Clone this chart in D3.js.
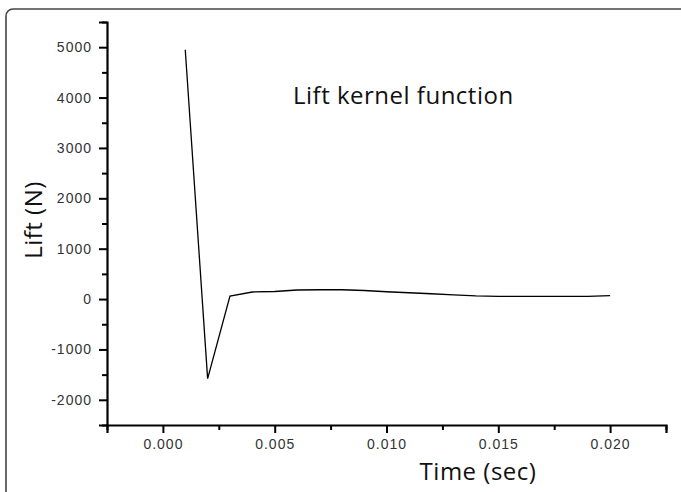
<!DOCTYPE html>
<html>
<head>
<meta charset="utf-8">
<script src="https://cdn.jsdelivr.net/npm/d3@7"></script>
<style>
  html, body { margin: 0; padding: 0; background: #fff; }
  svg { display: block; }
  .tick text { font-family: "Liberation Sans", Arial, sans-serif; font-size: 14px; fill: #333; letter-spacing: 1px; }
</style>
</head>
<body>
<svg id="chart" width="681" height="492"></svg>
<script>
// Data
const timeSec = [0.001, 0.002, 0.003, 0.004, 0.005, 0.006, 0.007, 0.008, 0.009, 0.010,
                 0.011, 0.012, 0.013, 0.014, 0.015, 0.016, 0.017, 0.018, 0.019, 0.020];
const liftN   = [4950, -1580, 60, 140, 150, 180, 185, 185, 170, 145,
                 125, 105, 85, 65, 55, 55, 55, 55, 55, 70];
const xTicks = [0.000, 0.005, 0.010, 0.015, 0.020];
const xMinorTicks = [-0.0025, 0.0025, 0.0075, 0.0125, 0.0175, 0.0225];
const yTicks = [-2000, -1000, 0, 1000, 2000, 3000, 4000, 5000];
const yMinorTicks = [-2500, -1500, -500, 500, 1500, 2500, 3500, 4500, 5500];
const titleText = "Lift kernel function";
const xLabel = "Time (sec)";
const yLabel = "Lift (N)";

const W = 681, H = 492;
const m = { left: 107, right: 15, top: 22, bottom: 67 };
const svg = d3.select("#chart");

// frame
svg.append("rect")
  .attr("x", 6).attr("y", 9).attr("width", 720).attr("height", 520)
  .attr("rx", 7).attr("fill", "none").attr("stroke", "#444").attr("stroke-width", 1.6);

const x = d3.scaleLinear().domain([-0.0025, 0.0225]).range([m.left, W - m.right]);
const y = d3.scaleLinear().domain([-2500, 5500]).range([H - m.bottom, m.top]);

// minor ticks
svg.append("g").attr("transform", `translate(0,${H - m.bottom})`)
  .call(d3.axisBottom(x).tickValues(xMinorTicks).tickSize(5).tickFormat(""))
  .call(g => g.select(".domain").remove())
  .call(g => g.selectAll("line").attr("stroke", "#000").attr("stroke-width", 2));
svg.append("g").attr("transform", `translate(${m.left},0)`)
  .call(d3.axisLeft(y).tickValues(yMinorTicks).tickSize(5).tickFormat(""))
  .call(g => g.select(".domain").remove())
  .call(g => g.selectAll("line").attr("stroke", "#000").attr("stroke-width", 2));

// major axes
const xAxis = svg.append("g").attr("transform", `translate(0,${H - m.bottom})`)
  .call(d3.axisBottom(x).tickValues(xTicks).tickSize(8).tickPadding(6).tickFormat(d3.format(".3f")));
const yAxis = svg.append("g").attr("transform", `translate(${m.left},0)`)
  .call(d3.axisLeft(y).tickValues(yTicks).tickSize(8).tickPadding(7).tickFormat(d => String(d)));
[xAxis, yAxis].forEach(g => {
  g.select(".domain").attr("stroke", "#000").attr("stroke-width", 2.2);
  g.selectAll(".tick line").attr("stroke", "#000").attr("stroke-width", 2);
});

// line
const pts = timeSec.map((t, i) => [t, liftN[i]]);
svg.append("path")
  .datum(pts)
  .attr("fill", "none").attr("stroke", "#000").attr("stroke-width", 1.3)
  .attr("d", d3.line().x(d => x(d[0])).y(d => y(d[1])));

// texts
const tfont = "'Open Sans', 'Noto Sans', sans-serif";
svg.append("text").attr("x", 293).attr("y", 104).attr("font-family", tfont)
  .attr("font-size", 24).attr("letter-spacing", 0.5).attr("fill", "#111").text(titleText);
svg.append("text").attr("x", 478).attr("y", 480).attr("text-anchor", "middle")
  .attr("font-family", tfont).attr("font-size", 24).attr("letter-spacing", 0.5).attr("fill", "#111").text(xLabel);
svg.append("text").attr("transform", "translate(41.5,220) rotate(-90)").attr("text-anchor", "middle")
  .attr("font-family", tfont).attr("font-size", 24).attr("letter-spacing", 0.5).attr("fill", "#111").text(yLabel);
</script>
</body>
</html>
